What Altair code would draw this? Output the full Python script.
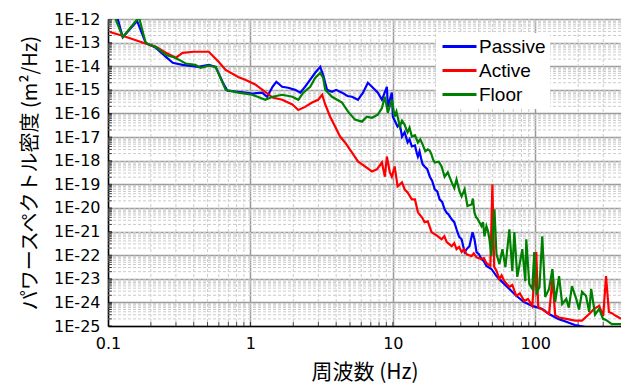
import altair as alt
import pandas as pd

# ---- data ----
passive_f = [0.1, 0.117, 0.127, 0.16, 0.184, 0.217, 0.255, 0.285, 0.334, 0.43, 0.51, 0.57, 0.65, 0.69,
             0.82, 0.92, 1.03, 1.21, 1.31, 1.43, 1.52, 1.67, 1.84, 2.06, 2.24, 2.42, 2.63, 2.85, 3.09,
             3.24, 3.45, 3.74, 4.0, 4.40, 4.8, 5.17, 5.69, 6.17, 6.68, 7.25, 7.85, 8.38, 9.08, 9.23, 9.84, 10.0,
             10.8, 11.6, 12.1, 13.6, 14.3, 15.0, 15.8, 16.7, 17.4, 18.2, 19.7, 20.5, 21.3, 23.1, 24.5, 25.9,
             28.0, 30.4, 31.9, 34.5, 36.3, 38.7, 41.9, 45.4, 49.2, 53.4, 58.8, 65.8, 73.6, 83.0, 95.3,
             112, 125, 145, 165, 190, 250, 400,
             10.4, 11.2, 12.7, 13.1, 14.7, 15.4, 16.2, 18.9, 22.2, 24.0, 27.0, 29.2, 33.0, 37.5, 40.2,
             43.6]
passive_v = [4e-12, 1.0e-12, 1.7e-13, 8.3e-13, 9.7e-14, 6.0e-14, 2.5e-14, 1.4e-14, 1.15e-14, 9.4e-15,
             1.15e-14, 9.4e-15, 1.7e-15, 9.2e-16, 8.3e-16, 7.6e-16, 6.9e-16, 7.6e-16, 5.1e-16, 1.35e-15,
             2.2e-15, 1.35e-15, 1.23e-15, 1.0e-15, 7.6e-16, 1.35e-15, 2.7e-15, 5.3e-15, 9.4e-15, 4.3e-15,
             1.0e-15, 8.3e-16, 1.0e-15, 7.6e-16, 5.5e-16, 5.1e-16, 3.8e-16, 7.6e-16, 2.0e-15, 1.23e-15,
             7.6e-16, 3.8e-16, 1.35e-15, 1.9e-16, 7.6e-16, 7.3e-17, 2.8e-17, 1.05e-17, 1.6e-17, 4.0e-18,
             4.4e-18, 1.5e-18, 1.2e-18, 5.7e-19, 4.5e-19, 2.1e-19, 6.1e-20, 5.0e-20, 2.3e-20, 8.7e-21,
             5.5e-21, 3.3e-21, 1.25e-21, 4.7e-22, 1.35e-22, 2.4e-22, 9.4e-22, 1.35e-22, 6.8e-23, 3.5e-23,
             2.6e-23, 1.3e-23, 7.2e-24, 3.7e-24, 1.9e-24, 1.05e-24, 7.1e-25, 5.3e-25, 3.2e-25, 2.0e-25,
             1.5e-25, 1.1e-25, 8e-26, 7e-26,
             4.5e-17, 3.5e-17, 6e-18, 8e-18, 2.2e-18, 2.5e-18, 7e-19, 1.4e-19, 1.8e-20, 6e-21, 2.5e-21,
             6e-22, 1.8e-22, 4.5e-22, 1.1e-22, 5.5e-23]

active_f = [0.103, 0.128, 0.179, 0.217, 0.255, 0.30, 0.334, 0.40, 0.51, 0.60, 0.67, 0.82, 0.92, 1.08,
            1.27, 1.43, 1.67, 1.97, 2.17, 2.42, 2.71, 2.99, 3.19, 3.35, 3.63, 3.93, 4.26, 4.62, 5.17,
            5.69, 6.37, 7.13, 7.73, 8.38, 8.79, 9.08, 9.53, 9.84, 10.3, 10.8, 11.6, 12.1, 12.7, 13.6,
            14.3, 15.0, 16.0, 16.7, 17.6, 18.7, 20.3, 22.0, 23.0, 23.9, 25.9, 27.0, 28.0, 29.2, 30.4,
            31.6, 32.9, 35.7, 37.0, 38.7, 41.9, 43.5, 45.4, 48.4, 50.0, 51.5, 53.4, 56.0, 58.0, 60.7,
            65.8, 69.0, 73.6, 78.0, 83.7, 89.0, 95.3, 101.6, 104.9, 115, 125, 132, 138, 147, 165, 190,
            213, 239, 259, 281, 300, 314, 329, 345, 368, 400]
active_v = [2.8e-13, 1.9e-13, 9.7e-14, 6.6e-14, 3.7e-14, 2.3e-14, 3.7e-14, 4.1e-14, 4.1e-14, 1.5e-14,
            7.0e-15, 3.5e-15, 2.7e-15, 1.7e-15, 8.3e-16, 4.7e-16, 3.8e-16, 2.4e-16, 1.4e-16, 1.9e-16,
            2.9e-16, 3.8e-16, 6.2e-16, 2.4e-16, 7.3e-17, 2.8e-17, 1.05e-17, 5.9e-18, 2.2e-18, 9.3e-19,
            5.7e-19, 3.5e-19, 4.3e-19, 8.4e-19, 2.1e-19, 1.5e-18, 3.2e-19, 2.1e-19, 5.7e-19, 8.2e-20,
            1.2e-19, 6.1e-20, 4.5e-20, 2.3e-20, 2.3e-20, 6.5e-21, 4.0e-21, 2.5e-21, 2.7e-21, 9.4e-22,
            6.9e-22, 4.7e-22, 6.3e-22, 3.6e-22, 2.4e-22, 3.2e-22, 1.8e-22, 2.2e-22, 1.35e-22, 1.8e-22,
            1.1e-22, 9.1e-23, 1.2e-22, 8.0e-23, 6.8e-23, 7.5e-23, 4.6e-23, 3.5e-23, 1.0e-19, 3.2e-23,
            2.2e-23, 9.7e-24, 1.4e-23, 7.9e-24, 4.5e-24, 5.5e-24, 1.9e-24, 2.4e-24, 1.15e-24, 1.4e-24,
            7.1e-25, 1.35e-22, 6.5e-25, 4.5e-25, 3.2e-25, 9.7e-24, 2.9e-25, 2.3e-25, 2.0e-25, 1.7e-25,
            1.7e-25, 3.2e-25, 5.3e-25, 7.1e-25, 2.7e-25, 1.3e-23, 3.9e-25, 3.5e-25, 2.7e-25, 2.0e-25]

floor_f = [0.1, 0.11, 0.127, 0.165, 0.184, 0.217, 0.255, 0.285, 0.314, 0.351, 0.41, 0.447, 0.51, 0.57,
           0.67, 0.82, 0.92, 1.03, 1.27, 1.43, 1.67, 1.97, 2.17, 2.35, 2.63, 2.85, 3.09, 3.24, 3.35,
           3.74, 4.40, 4.85, 5.42, 6.07, 6.58, 7.13, 7.85, 8.38, 8.79, 9.23, 9.84, 10.3, 11.2, 12.1,
           12.7, 13.6, 15.0, 16.2, 17.6, 18.7, 19.7, 22.0, 23.1, 24.3, 25.9, 28.0, 29.4, 30.4, 31.9,
           33.4, 35.7, 37.4, 39.3, 41.9, 44.0, 45.4, 47.7, 49.2, 51.7, 53.4, 56.0, 58.8, 61.7, 65.8,
           69.0, 71.3, 74.8, 77.3, 81.1, 85.1, 86.5, 90.8, 95.3, 98.4, 102, 107, 112, 117.5, 125, 132,
           138, 147, 154.5, 165, 172, 181, 194, 203, 213, 227, 239, 247, 263, 281, 299, 314, 345, 400,
           10.6, 11.6, 12.4, 13.1, 14.3, 15.6, 16.9, 18.2, 19.2, 21.0, 27.0, 36.5, 38.4, 43.0, 46.5]
floor_v = [4e-12, 1.5e-12, 1.7e-13, 1.2e-12, 9.7e-14, 6.6e-14, 3.0e-14, 2.5e-14, 1.9e-14, 1.3e-14,
           1.15e-14, 8.5e-15, 1.05e-14, 9.4e-15, 1.0e-15, 7.6e-16, 6.9e-16, 6.2e-16, 3.8e-16, 5.1e-16,
           6.2e-16, 5.1e-16, 3.8e-16, 7.6e-16, 1.35e-15, 3.2e-15, 5.3e-15, 3.2e-15, 1.0e-15, 5.1e-16,
           2.9e-16, 1.2e-16, 5.5e-17, 4.5e-17, 7.3e-17, 6.6e-17, 8.9e-17, 1.7e-16, 5.1e-16, 1.08e-16,
           3.8e-16, 7.3e-17, 2.8e-17, 3.4e-17, 1.6e-17, 1.05e-17, 5.9e-18, 4.8e-18, 3.0e-18, 1.8e-18,
           8.4e-19, 5.7e-19, 2.1e-19, 3.2e-19, 1.2e-19, 1.6e-19, 5.0e-20, 3.1e-20, 6.1e-20, 1.2e-20,
           1.4e-20, 6.5e-21, 3.5e-21, 1.7e-21, 6.3e-22, 1.7e-21, 4.7e-22, 9.1e-23, 8.7e-21, 1.1e-22,
           4.2e-23, 1.8e-22, 3.1e-23, 1.25e-21, 2.1e-23, 9.4e-22, 1.2e-23, 3.5e-23, 1.8e-22, 7.9e-24,
           4.7e-22, 6.0e-24, 3.7e-24, 1.35e-22, 2.5e-24, 4.5e-24, 6.3e-22, 1.7e-24, 3.7e-24, 2.6e-23,
           1.05e-24, 1.3e-23, 8.6e-25, 1.4e-24, 6e-25, 4.9e-24, 1.4e-24, 5e-25, 2.8e-24, 1.9e-24,
           4e-25, 3.7e-24, 3e-25, 5.3e-25, 2e-25, 1.8e-25, 1.2e-25, 1.2e-25,
           1.2e-16, 5e-17, 2.2e-17, 2.5e-17, 1.2e-17, 8e-18, 2.5e-18, 2.6e-18, 1.1e-18, 9e-19, 7e-20,
           2.5e-20, 4e-21, 2.5e-21, 1.1e-21]

series_names = ["Passive", "Active", "Floor"]
series_colors = ["#0000ff", "#ff0000", "#008000"]

x_major = [0.1, 1, 10, 100]
y_major = [1e-25, 1e-24, 1e-23, 1e-22, 1e-21, 1e-20, 1e-19, 1e-18, 1e-17, 1e-16, 1e-15, 1e-14,
           1e-13, 1e-12]
x_minor = [m * d for d in (0.1, 1, 10) for m in range(2, 10)] + [200, 300]
y_minor = [m * d for d in y_major[:-1] for m in range(2, 10)]

# ---- tables ----
rows = []
for name, fs, vs in [("Passive", passive_f, passive_v), ("Active", active_f, active_v),
                     ("Floor", floor_f, floor_v)]:
    for f, v in zip(fs, vs):
        rows.append({"series": name, "freq": f, "psd": v})
df = pd.DataFrame(rows).sort_values(["series", "freq"]).reset_index(drop=True)
xminor_df = pd.DataFrame({"freq": x_minor})
yminor_df = pd.DataFrame({"psd": y_minor})
xtick_df = pd.DataFrame({"freq": x_minor + x_major})
ytick_df = pd.DataFrame({"psd": y_minor + y_major})

xs = alt.Scale(type="log", domain=[0.1, 400], nice=False)
ys = alt.Scale(type="log", domain=[1e-25, 1e-12], nice=False)

xaxis = alt.Axis(values=x_major, grid=True, gridColor="#9a9a9a", gridWidth=1.5,
                 domainColor="black", domainWidth=1.5, ticks=False,
                 labelFont="DejaVu Sans", labelFontSize=16, labelColor="black", labelPadding=9,
                 labelOverlap=False, labelFlush=False,
                 labelExpr="datum.value < 1 ? '0.1' : format(datum.value, 'd')",
                 title="周波数 (Hz)", titleFont="Noto Sans CJK JP", titleFontSize=21,
                 titleFontWeight="normal", titleColor="black", titleY=46,
                 titleBaseline="middle")
yaxis = alt.Axis(values=y_major, grid=True, gridColor="#9a9a9a", gridWidth=1.5,
                 domainColor="black", domainWidth=1.5, ticks=False,
                 labelFont="DejaVu Sans", labelFontSize=16, labelColor="black", labelPadding=8,
                 labelOverlap=False, labelFlush=False,
                 labelExpr="'1E' + round(log(datum.value) / LN10)",
                 title="パワースペクトル密度 (m²/Hz)", titleFont="Noto Sans CJK JP", titleFontSize=20,
                 titleFontWeight="normal", titleColor="black", titleX=-78, titleY=153.5,
                 titleAlign="center", titleBaseline="middle", titleAngle=270)

X = alt.X("freq:Q", scale=xs, axis=xaxis)
Y = alt.Y("psd:Q", scale=ys, axis=yaxis)

color = alt.Color("series:N",
                  scale=alt.Scale(domain=series_names, range=series_colors),
                  legend=alt.Legend(orient="none", legendX=328, legendY=14, title=None,
                                    symbolType="M-3.4,0H3.4", symbolSize=100,
                                    symbolStrokeWidth=3, symbolOffset=10,
                                    labelFont="Liberation Sans", labelFontSize=19,
                                    labelColor="black", fillColor="white", padding=4,
                                    labelOffset=10, rowPadding=4))

minor_x = alt.Chart(xminor_df).mark_rule(color="#cccccc", strokeWidth=1, strokeDash=[3, 2]).encode(
    x=X)
minor_y = alt.Chart(yminor_df).mark_rule(color="#cccccc", strokeWidth=1, strokeDash=[3, 2]).encode(
    y=Y)
ticks_x = alt.Chart(xtick_df).mark_tick(color="black", size=8, thickness=1, clip=True).encode(
    x=X, y=alt.value(307))
ticks_y = alt.Chart(ytick_df).mark_tick(color="black", size=8, thickness=1, clip=True).encode(
    y=Y, x=alt.value(0))

lines = []
for name in series_names:
    lines.append(alt.Chart(df).transform_filter(alt.datum.series == name)
                 .mark_line(strokeWidth=2.2, clip=True)
                 .encode(x=X, y=Y, color=color))

chart = alt.layer(minor_x, minor_y, ticks_x, ticks_y, *lines).properties(
    width=513, height=307,
    autosize=alt.AutoSizeParams(type="none"),
    padding={"left": 108, "top": 19, "right": 0, "bottom": 57},
).configure_view(strokeWidth=0).configure(background="white")

chart.save("out.html", embed_options={"renderer": "svg", "actions": False})
